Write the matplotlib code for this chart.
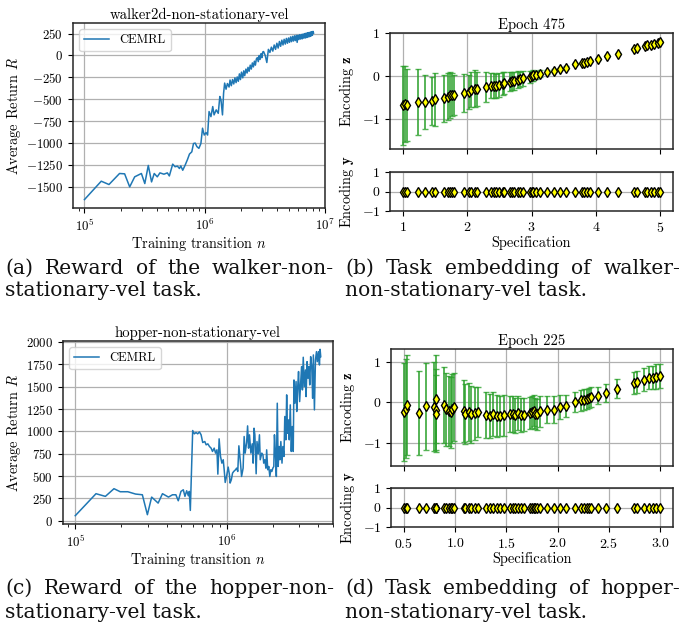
import matplotlib
matplotlib.use('Agg')
import matplotlib.pyplot as plt
from matplotlib.ticker import MultipleLocator

plt.rcParams.update({
    'font.family': 'serif',
    'font.serif': ['cmr10'],
    'mathtext.fontset': 'cm',
    'axes.formatter.use_mathtext': True,
    'axes.unicode_minus': True,
    'xtick.labelsize': 9.3,
    'ytick.labelsize': 9.3,
})

# ---------------- data ----------------
# walker2d-non-stationary-vel: training transitions (x 1e5) and average return
walker_steps = [1.0, 1.38, 1.6, 1.96, 2.16, 2.38, 2.62, 2.98, 3.18, 3.4,
                3.62, 3.81, 4.04, 4.25, 4.59, 4.9, 5.09, 5.43, 5.68, 5.94,
                6.18, 6.34, 6.58, 6.89, 7.21, 7.49, 7.83, 8.09, 8.36, 8.63,
                8.97, 9.32, 9.62, 9.94, 10.3, 10.6, 10.9, 11.3, 11.7, 12.0,
                12.5, 13.0, 13.4, 13.7, 14.1, 14.4, 14.7,
                15.1, 15.5, 16.0, 16.3, 16.7, 17.1, 17.5, 17.9, 18.3, 18.7,
                19.1, 19.5, 19.9, 20.3, 20.8, 21.2, 21.6, 22.1, 22.6, 23.0,
                23.5, 24.0, 24.5, 25.0, 25.5, 26.0, 26.5, 27.0, 27.5, 28.0,
                28.5, 29.0, 29.5, 30.0, 30.5,
                31, 32, 33, 34, 35, 36, 37, 38, 39, 40,
                41, 42, 43, 44, 45, 46, 47, 48, 49, 50,
                51, 52, 53, 54, 55, 56, 57, 58, 59, 60,
                61, 62, 63, 64, 65, 66, 67, 68, 69, 70,
                71, 72, 73, 74, 75, 76, 77, 78, 79, 80, 80.8]
walker_return = [-1645, -1435, -1473, -1347, -1351, -1500, -1385, -1347, -1462, -1255,
                 -1443, -1347, -1385, -1340, -1355, -1340, -1375, -1240, -1270, -1263,
                 -1290, -1260, -1310, -1252, -1187, -1125, -1100, -1005, -1000, -1040,
                 -1060, -1005, -830, -908, -880, -908, -640, -698, -583, -678,
                 -621, -660, -468, -507, -678, -430, -315,
                 -385, -320, -360, -280, -345, -275, -325, -255, -310, -245,
                 -295, -210, -275, -190, -255, -175, -230, -155, -200, -135,
                 -180, -110, -155, -85, -130, -65, -110, -40, -25, -70,
                 0, -45, 20, -25, 40,
                 45, 0, -80, 70, 35, 95, 50, 120, 70, 140,
                 85, 160, 105, 175, 120, 185, 130, 195, 140, 200,
                 150, 212, 158, 218, 165, 225, 170, 230, 150, 232,
                 182, 238, 188, 240, 190, 245, 198, 250, 200, 255,
                 205, 260, 212, 262, 215, 268, 222, 272, 230, 275, 255]

# hopper-non-stationary-vel
hopper_steps = [1.0, 1.37, 1.58, 1.8, 1.98, 2.22, 2.5, 2.77, 2.99, 3.19,
                3.52, 3.76, 4.12, 4.38, 4.61, 4.78, 4.98, 5.16, 5.29, 5.43,
                5.57, 5.65, 5.74, 5.95, 6.1, 6.26, 6.42, 6.59, 6.76, 6.93,
                7.15, 7.3, 7.49, 7.68, 7.87, 8.04, 8.25, 8.42, 8.6, 8.72,
                8.89, 9.08, 9.27, 9.46, 9.6, 9.75, 9.95, 10.2, 10.4, 10.5,
                10.7, 10.9, 11.1, 11.4, 11.6, 11.8, 12.0, 12.3, 12.5, 12.8,
                13.0, 13.2, 13.5, 13.7, 13.9, 14.1, 14.4, 14.7, 14.9, 15.1,
                15.3, 15.6, 15.8, 16.1, 16.4, 16.6, 17.0, 17.3, 17.5, 17.8,
                18.1, 18.3, 18.6, 18.9, 19.2, 19.5, 19.8, 20.1, 20.4, 20.6,
                20.9, 21.2, 21.5, 21.8, 22.1, 22.4, 22.7, 23.1, 23.4, 23.8,
                24.1, 24.5, 24.8, 25.1, 25.5, 25.8, 26.2, 26.6, 27.0, 27.4,
                27.7, 28.1, 28.6, 28.9, 29.3, 29.7, 30.2, 30.7, 31.1, 31.5,
                31.9, 32.4, 33.0, 33.3, 33.8, 34.3, 34.8, 35.2, 35.7, 36.3,
                36.8, 37.2, 37.8, 38.4, 39.0, 39.5, 40.2, 40.8, 41.2, 41.6]
hopper_return = [56, 302, 272, 358, 324, 324, 298, 290, 67, 264,
                 197, 302, 264, 290, 290, 223, 328, 346, 272, 335,
                 279, 328, 115, 1009, 972, 987, 972, 994, 961, 875,
                 886, 849, 860, 830, 812, 775, 812, 756, 793, 521,
                 916, 719, 644, 682, 570, 428, 495, 600, 514, 421,
                 458, 533, 551, 570, 588, 551, 838, 644, 495, 588,
                 942, 756, 875, 1061, 812, 961, 756, 860, 644, 1035,
                 961, 525, 886, 749, 961, 682, 756, 737, 644, 682,
                 588, 793, 570, 607, 495, 570, 551, 588, 607, 961,
                 756, 495, 1315, 607, 830, 682, 886, 644, 830, 719,
                 1166, 905, 1408, 979, 1128, 905, 1296, 775, 1054, 775,
                 1575, 1315, 1557, 1222, 1482, 1669, 1333, 1557, 1724, 1464,
                 1829, 1501, 1687, 1389, 1780, 1594, 1724, 1520, 1836, 1724,
                 1371, 1855, 1240, 1799, 1892, 1780, 1892, 1743, 1918, 1836]

# walker task embedding, epoch 475
walker_spec = [1.00, 1.04, 1.06, 1.24, 1.35, 1.46, 1.50, 1.64, 1.70, 1.74,
               1.77, 1.79, 1.95, 2.03, 2.06, 2.12, 2.15, 2.29, 2.37, 2.42,
               2.45, 2.49, 2.55, 2.58, 2.66, 2.69, 2.73, 2.79, 2.82, 2.87,
               2.97, 3.00, 3.03, 3.07, 3.13, 3.24, 3.35, 3.45, 3.53, 3.68,
               3.78, 3.82, 3.87, 3.91, 4.04, 4.17, 4.34, 4.60, 4.64, 4.76,
               4.80, 4.86, 4.91, 4.96, 5.00]
walker_z = [-0.69, -0.66, -0.68, -0.62, -0.61, -0.59, -0.55, -0.53, -0.49, -0.45,
            -0.44, -0.44, -0.40, -0.38, -0.32, -0.30, -0.30, -0.26, -0.23, -0.23,
            -0.23, -0.22, -0.18, -0.17, -0.14, -0.12, -0.12, -0.09, -0.08, -0.06,
            -0.02, -0.01, 0.01, 0.02, 0.05, 0.09, 0.12, 0.16, 0.19, 0.27,
            0.30, 0.31, 0.33, 0.35, 0.40, 0.46, 0.52, 0.62, 0.64, 0.70,
            0.71, 0.72, 0.75, 0.77, 0.79]
walker_z_std = [0.92, 0.88, 0.85, 0.77, 0.64, 0.56, 0.62, 0.55, 0.55, 0.53,
                0.50, 0.47, 0.45, 0.40, 0.42, 0.43, 0.40, 0.35, 0.29, 0.30,
                0.28, 0.28, 0.27, 0.25, 0.22, 0.22, 0.22, 0.20, 0.18, 0.18,
                0.14, 0.12, 0.12, 0.10, 0.08, 0.05, 0.04, 0.03, 0.03, 0.02,
                0.02, 0.02, 0.02, 0.02, 0.02, 0.02, 0.02, 0.02, 0.02, 0.02,
                0.02, 0.02, 0.02, 0.02, 0.02]
walker_y = [0.0] * len(walker_spec)

# hopper task embedding, epoch 225
hopper_spec = [0.50, 0.525, 0.535, 0.65, 0.72, 0.79, 0.81, 0.81, 0.815, 0.89,
               0.91, 0.94, 0.96, 0.97, 0.99, 1.09, 1.10, 1.14, 1.16, 1.19,
               1.22, 1.30, 1.34, 1.37, 1.41, 1.44, 1.48, 1.54, 1.56, 1.58,
               1.61, 1.64, 1.67, 1.73, 1.75, 1.77, 1.78, 1.80, 1.83, 1.90,
               1.96, 2.02, 2.08, 2.17, 2.23, 2.26, 2.29, 2.31, 2.33, 2.39,
               2.47, 2.58, 2.74, 2.77, 2.84, 2.89, 2.93, 2.96, 3.00]
hopper_z = [-0.25, -0.16, -0.07, -0.27, -0.11, -0.12, 0.08, -0.19, -0.29, -0.08,
            -0.18, -0.22, -0.25, -0.16, -0.13, -0.22, -0.30, -0.25, -0.30, -0.28,
            -0.25, -0.31, -0.34, -0.29, -0.34, -0.34, -0.33, -0.30, -0.29, -0.33,
            -0.26, -0.31, -0.31, -0.27, -0.25, -0.21, -0.29, -0.30, -0.23, -0.19,
            -0.19, -0.12, -0.10, 0.00, 0.04, 0.06, 0.08, 0.10, 0.12, 0.16,
            0.23, 0.33, 0.47, 0.49, 0.55, 0.60, 0.60, 0.63, 0.65]
hopper_z_std = [1.21, 1.23, 1.23, 1.03, 1.08, 1.10, 1.08, 1.00, 0.95, 0.94,
                0.90, 0.87, 0.88, 0.85, 0.84, 0.76, 0.74, 0.72, 0.70, 0.65,
                0.62, 0.57, 0.55, 0.55, 0.52, 0.50, 0.50, 0.45, 0.45, 0.44,
                0.42, 0.42, 0.41, 0.40, 0.40, 0.39, 0.38, 0.38, 0.38, 0.33,
                0.33, 0.30, 0.28, 0.25, 0.25, 0.25, 0.24, 0.24, 0.24, 0.22,
                0.22, 0.23, 0.27, 0.27, 0.28, 0.29, 0.29, 0.30, 0.30]
hopper_y = [0.0] * len(hopper_spec)

captions = {
    'a': ["(a) Reward of the walker-non-", "stationary-vel task."],
    'b': ["(b) Task embedding of walker-", "non-stationary-vel task."],
    'c': ["(c) Reward of the hopper-non-", "stationary-vel task."],
    'd': ["(d) Task embedding of hopper-", "non-stationary-vel task."],
}

# ---------------- figure ----------------
W, H = 682, 634
fig = plt.figure(figsize=(W / 100, H / 100), dpi=100)


def box(l, t, r, b):
    return [l / W, 1 - b / H, (r - l) / W, (b - t) / H]


GRID = dict(color='#b0b0b0', lw=0.9)
LABEL_FS = 10.4
TITLE_FS = 10.6


def style(ax):
    for s in ax.spines.values():
        s.set_color('#262626')
        s.set_linewidth(1.1)
    ax.grid(True, **GRID)
    ax.set_axisbelow(True)


def reward_panel(rect, steps, ret, title):
    ax = fig.add_axes(rect)
    ax.plot([s * 1e5 for s in steps], ret, color='#1f77b4', lw=1.1, label='CEMRL')
    ax.set_xscale('log')
    ax.yaxis.set_major_locator(MultipleLocator(250))
    style(ax)
    ax.set_title(title, fontsize=TITLE_FS, pad=3)
    ax.set_xlabel('Training transition $n$', fontsize=LABEL_FS, labelpad=1)
    ax.set_ylabel('Average Return $R$', fontsize=LABEL_FS, labelpad=2)
    ax.legend(loc='upper left', fontsize=9, handlelength=2.0)
    return ax


def embed_panel(rect_top, rect_bot, spec, z, zstd, yv, title, zlim):
    ax1 = fig.add_axes(rect_top)
    ax2 = fig.add_axes(rect_bot, sharex=ax1)
    ax1.errorbar(spec, z, yerr=zstd, fmt='none', ecolor='#2ca02c', alpha=0.8,
                 elinewidth=1.4, capsize=2, capthick=1.0, zorder=2)
    mk = dict(marker='d', ls='none', mfc='#ffff00', mec='black', ms=4.9, mew=1.0, zorder=3)
    ax1.plot(spec, z, **mk)
    ax2.plot(spec, yv, **mk)
    for ax in (ax1, ax2):
        style(ax)
        ax.tick_params(labelsize=10)
    ax1.set_ylim(*zlim)
    ax1.set_yticks([-1, 0, 1])
    ax2.set_ylim(-1, 1)
    ax2.set_yticks([-1, 0, 1])
    ax1.tick_params(labelbottom=False)
    ax1.set_title(title, fontsize=TITLE_FS, pad=3)
    ax1.set_ylabel(r'Encoding $\mathbf{z}$', fontsize=LABEL_FS)
    ax2.set_ylabel(r'Encoding $\mathbf{y}$', fontsize=LABEL_FS)
    ax2.set_xlabel('Specification', fontsize=LABEL_FS, labelpad=1)
    fig.align_ylabels([ax1, ax2])
    return ax1, ax2


reward_panel(box(73, 23, 325, 208), walker_steps, walker_return,
             'walker2d-non-stationary-vel')
embed_panel(box(390, 33, 673, 149), box(390, 172, 673, 211),
            walker_spec, walker_z, walker_z_std, walker_y, 'Epoch 475', (-1.71, 1.0))
reward_panel(box(63, 341, 333, 524), hopper_steps, hopper_return,
             'hopper-non-stationary-vel')
embed_panel(box(391, 349, 673, 466), box(391, 488, 673, 527),
            hopper_spec, hopper_z, hopper_z_std, hopper_y, 'Epoch 225', (-1.58, 1.31))

# ---------------- captions ----------------
CAP_FS = 14.6
CAP_FAMILY = 'DejaVu Serif'
renderer = fig.canvas.get_renderer()


def caption(x0, x1, yc1, yc2, lines):
    # first line justified over the column width, second line flush left
    words = lines[0].split(' ')
    objs = [fig.text(0, 1 - yc1 / H, w, fontsize=CAP_FS, family=CAP_FAMILY,
                     va='center', ha='left', color='#111111') for w in words]
    widths = [o.get_window_extent(renderer).width for o in objs]
    gap = (x1 - x0 - sum(widths)) / max(len(words) - 1, 1)
    x = x0
    for o, w in zip(objs, widths):
        o.set_x(x / W)
        x += w + gap
    fig.text(x0 / W, 1 - yc2 / H, lines[1], fontsize=CAP_FS, family=CAP_FAMILY,
             va='center', ha='left', color='#111111')


caption(5, 334, 268, 291, captions['a'])
caption(345, 680, 268, 291, captions['b'])
caption(5, 334, 588, 612, captions['c'])
caption(345, 680, 588, 612, captions['d'])

fig.savefig('out.png', dpi=100)
